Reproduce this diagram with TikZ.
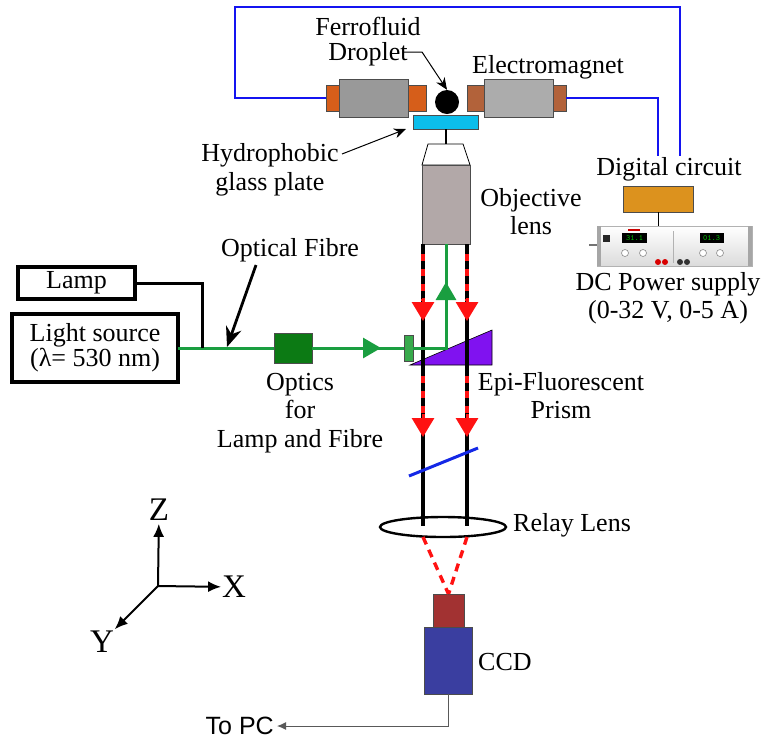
\documentclass[tikz,border=0pt]{standalone}
\usepackage{fontspec}
\setmainfont{Liberation Serif}
\newfontfamily\pcfont{Liberation Sans}
\usepackage{tikz}
\usetikzlibrary{arrows.meta,positioning,calc,shapes.geometric}
\usepackage{xcolor}

\definecolor{wireblue}{RGB}{20,20,240}
\definecolor{capdark}{RGB}{214,94,26}
\definecolor{caplight}{RGB}{178,98,58}
\definecolor{bodydark}{RGB}{153,153,153}
\definecolor{bodylight}{RGB}{172,172,172}
\definecolor{platecyan}{RGB}{12,190,235}
\definecolor{objgray}{RGB}{178,168,168}
\definecolor{fibregreen}{RGB}{26,158,64}
\definecolor{opticsgreen}{RGB}{12,122,20}
\definecolor{couplergreen}{RGB}{56,170,76}
\definecolor{prismviolet}{RGB}{128,18,240}
\definecolor{beamred}{RGB}{255,18,18}
\definecolor{headred}{RGB}{162,50,50}
\definecolor{ccdblue}{RGB}{58,62,160}
\definecolor{circuitorange}{RGB}{220,146,30}
\definecolor{mirrorblue}{RGB}{20,40,230}

\begin{document}
\begin{tikzpicture}[
    x=1pt, y=-1pt,
    font=\fontsize{26}{28}\selectfont,
    part/.style={
      rectangle, draw=black!70, line width=0.8pt,
      inner sep=0pt, outer sep=0pt
    },
    mag_body/.style={part, minimum width=69pt, minimum height=38pt},
    mag_cap/.style={part, minimum width=13pt, minimum height=26pt},
    src_box/.style={
      rectangle, draw, line width=3.2pt, align=center,
      inner sep=0pt, outer sep=0pt
    },
    label_style/.style={align=center, inner sep=1pt},
    axis_label/.style={font=\fontsize{33}{33}\selectfont, inner sep=0pt},
    wire/.style={wireblue, line width=1.8pt},
    beam/.style={black, line width=3.4pt},
    red_dash/.style={beamred, line width=3.4pt, dash pattern=on 7pt off 8pt},
    red_tip/.style={beamred, line width=3pt, -{Triangle[length=19pt,width=22pt]}},
    green_ray/.style={fibregreen, line width=3pt},
    green_tip/.style={fibregreen, line width=3pt, -{Triangle[length=18pt,width=20pt]}},
    callout/.style={-{Stealth[length=12pt,width=10pt]}, line width=1pt},
    callout_thick/.style={-{Stealth[length=20pt,width=16pt]}, line width=2.8pt},
    axis_arrow/.style={-{Latex[length=13pt,width=11pt]}, line width=2pt}
  ]
  \useasboundingbox (0,0) rectangle (762,740);

  % --- electromagnet pair, droplet and glass plate ---
  \node[mag_body, fill=bodydark] (magL) at (373.5,98) {};
  \node[mag_cap, fill=capdark, left=0pt of magL] (capLL) {};
  \node[mag_cap, fill=capdark, minimum width=18pt, right=0pt of magL] (capLR) {};
  \node[mag_body, fill=bodylight] (magR) at (518.5,98) {};
  \node[mag_cap, fill=caplight, minimum width=17pt, left=0pt of magR] (capRL) {};
  \node[mag_cap, fill=caplight, right=0pt of magR] (capRR) {};
  \node[circle, fill=black, minimum size=24pt, inner sep=0pt] (drop) at (447,102) {};
  \node[part, fill=platecyan, minimum width=65pt, minimum height=14pt] (plate) at (445.5,122) {};

  \node[label_style, font=\fontsize{26}{25}\selectfont] (ferro_lbl) at (368,42) {Ferrofluid\\Droplet};
  \node[label_style] (magnet_lbl) at (548,67) {Electromagnet};
  \node[label_style, font=\fontsize{26}{29}\selectfont] (hydro_lbl) at (270,170) {Hydrophobic\\glass plate};

  \coordinate (dropcall) at (404,52);
  \draw[callout] (dropcall) -- ++(18,0) -- (drop.north);
  \coordinate (hydrocall) at (342,154);
  \draw[callout] (hydrocall) -- ($(plate.south west)+(-7,0)$);

  % coil wiring up to the switching circuit
  \node[label_style] (dc_lbl) at (669,169) {Digital circuit};
  \coordinate (wireL) at (235,7);
  \coordinate (wireR) at (680,7);
  \draw[wire] (capLL.west) -| (wireL) -- (wireR) -- (wireR |- dc_lbl.north);
  \draw[wire] (capRR.east) -| ($(dc_lbl.north)+(-11,0)$);

  % --- objective ---
  \coordinate (objtop) at (445.5,144);
  \draw[line width=2pt] (plate.south) -- (objtop);
  \draw[line width=0.8pt, fill=white] (428,144) -- (463,144) -- (470,165) -- (422,165) -- cycle;
  \node[part, fill=objgray, minimum width=48pt, minimum height=79pt, anchor=north] (obj) at (446,165) {};
  \node[label_style] (obj_lbl) at (531,212) {Objective\\lens};

  % --- switching circuit and supply ---
  \node[part, fill=circuitorange, minimum width=70pt, minimum height=26pt] (dc_box) at (658,199) {};
  \node[rectangle, draw=black!30, top color=white, bottom color=black!14,
        minimum width=155pt, minimum height=40pt, inner sep=0pt] (psu) at (674.5,246) {};
  \draw[line width=1pt] (dc_box.south) -- (dc_box.south |- psu.north);
  \fill[black!35] (psu.north west) rectangle ++(4,40);
  \fill[black!35] (psu.north east) rectangle ++(-4,40);
  \draw[black!55, line width=1.2pt] (589,245) -- (psu.west |- 0,245);
  \node[fill=black!85, minimum size=7pt, inner sep=0pt] (psu_btn) at (606,238) {};
  \node[fill=black, minimum width=25pt, minimum height=10pt, inner sep=0pt,
        text=green!75!black, font=\ttfamily\fontsize{8}{8}\selectfont] (disp_v) at (634.5,238) {31.1};
  \node[fill=black, minimum width=24pt, minimum height=10pt, inner sep=0pt,
        text=green!75!black, font=\ttfamily\fontsize{8}{8}\selectfont] (disp_a) at (711.5,238) {01.3};
  \fill[red!80!black] (628,229) rectangle (640,231);
  \draw[black!30, line width=0.4pt] (673,231) -- (673,263);
  \foreach \kx in {625,643,703,720}
    \draw[black!45, fill=white, line width=0.6pt] (\kx,253) circle (3.5);
  \foreach \tx in {658,665}
    \fill[red!85!black] (\tx,262) circle (3);
  \foreach \tx in {680,687}
    \fill[black!80] (\tx,262) circle (3);
  \node[label_style] (psu_lbl) at (668,298) {DC Power supply\\(0-32 V, 0-5 A)};

  % --- excitation: light source, lamp and fibre ---
  \node[src_box, minimum width=117pt, minimum height=32pt] (lamp) at (76.5,283) {Lamp};
  \node[src_box, minimum width=166pt, minimum height=68pt, font=\fontsize{26}{25}\selectfont]
    (src) at (95,348) {Light source\\(λ= 530 nm)};
  \node[part, fill=opticsgreen, minimum width=38pt, minimum height=30pt] (optics) at (293,348) {};
  \node[part, fill=couplergreen, minimum width=9pt, minimum height=26pt] (coupler) at (408.5,348) {};
  \coordinate (splice) at (202,348);
  \coordinate (turn) at (446,348);

  \draw[green_ray] (src.east) -- (optics.west);
  \draw[green_ray] (optics.east) -- (coupler.west);
  \draw[green_tip] (optics.east) -- (381,348);
  \draw[line width=3pt] (lamp.east) -| (splice);

  \node[label_style] (fibre_lbl) at (290,250) {Optical Fibre};
  \coordinate (fibrecall) at (256,265);
  \coordinate (fibrehit) at (227,347);
  \draw[callout_thick] (fibrecall) -- (fibrehit);
  \node[label_style, font=\fontsize{26}{28.5}\selectfont] (optics_lbl) at (300,413) {Optics\\for\\Lamp and Fibre};

  % --- epi-fluorescent prism and the beams ---
  \draw[line width=0.6pt, fill=prismviolet] (410,365) -- (492,330) -- (492,365) -- cycle;
  \node[label_style] (prism_lbl) at (561,396) {Epi-Fluorescent\\Prism};

  \node[draw, ellipse, line width=2.4pt, minimum width=126pt, minimum height=20pt,
        inner sep=0pt] (relay) at (443,527) {};
  \node[label_style] (relay_lbl) at (572,525) {Relay Lens};

  \foreach \bx in {423,467} {
    \draw[beam] (\bx,244) -- (\bx,526);
    \draw[red_dash] (\bx,254) -- (\bx,301);
    \draw[red_tip] (\bx,298) -- (\bx,321);
    \draw[red_dash] (\bx,376) -- (\bx,417);
    \draw[red_tip] (\bx,414) -- (\bx,437);
  }
  \draw[green_ray] (coupler.east) -- (turn) -- (turn |- obj.south);
  \draw[green_tip] (turn) -- (446,282);
  \draw[mirrorblue, line width=3pt] (409,476) -- (478,448);

  % --- camera ---
  \node[part, fill=headred, minimum width=31pt, minimum height=33pt] (ccdhead) at (448.5,610.5) {};
  \node[part, fill=ccdblue, minimum width=48pt, minimum height=67pt, below=0pt of ccdhead] (ccd) {};
  \node[label_style, anchor=west] (ccd_lbl) at (477,662) {CCD};
  \draw[red_dash, dash pattern=on 8pt off 6pt] (423,537) -- (ccdhead.north);
  \draw[red_dash, dash pattern=on 8pt off 6pt] (467,537) -- (ccdhead.north);

  \node[font=\pcfont\fontsize{25}{25}\selectfont, anchor=east, inner sep=0pt, inner xsep=3pt]
    (pc) at (277,726) {To PC};
  \draw[-{Latex[length=9pt,width=8pt]}, line width=1pt, black!65] (ccd.south) |- (pc.east);

  % --- axes ---
  \coordinate (org) at (158,586);
  \node[axis_label, outer sep=3pt] (zlbl) at (159,510) {Z};
  \node[axis_label, outer sep=1pt] (xlbl) at (234,587) {X};
  \node[axis_label, outer sep=2pt] (ylbl) at (102,642) {Y};
  \draw[axis_arrow] (org) -- (zlbl);
  \draw[axis_arrow] (org) -- (xlbl);
  \draw[axis_arrow] (org) -- (ylbl);
\end{tikzpicture}
\end{document}
